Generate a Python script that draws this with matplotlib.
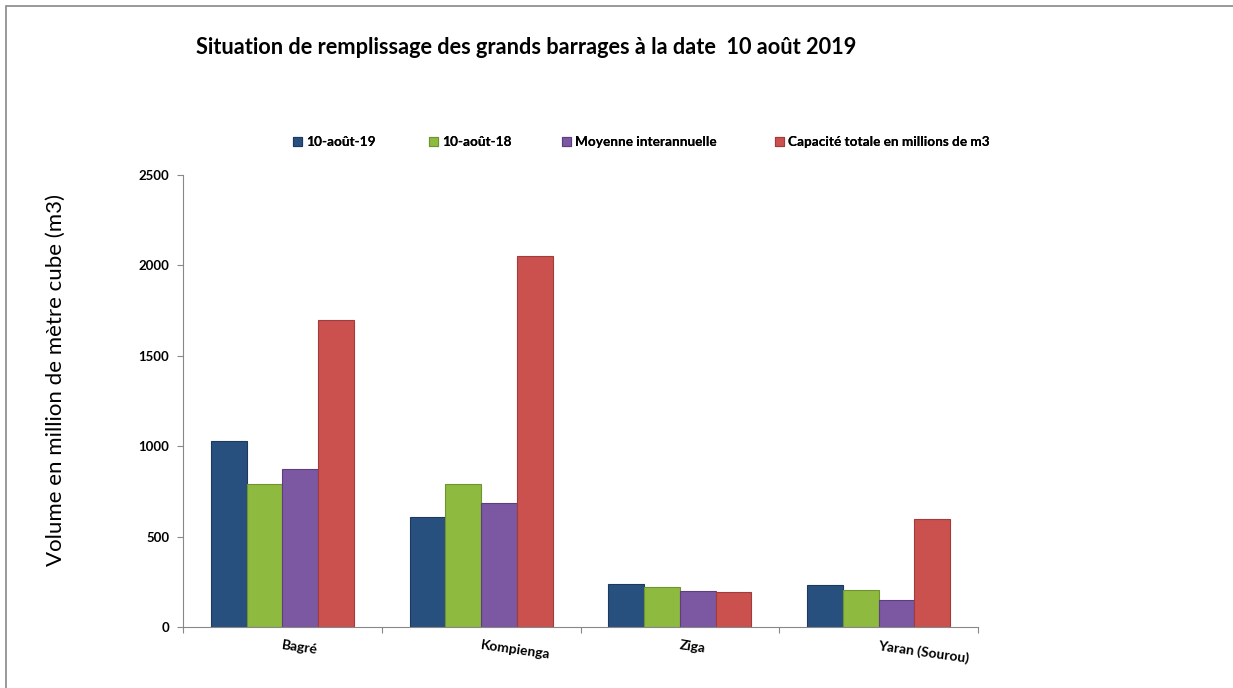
import matplotlib
matplotlib.use("Agg")
import matplotlib.pyplot as plt
import numpy as np
from matplotlib.patches import Rectangle

plt.rcParams['font.family'] = ['Lato', 'DejaVu Sans']

categories = ["Bagré", "Kompienga", "Ziga", "Yaran (Sourou)"]
series_names = ["10-août-19", "10-août-18", "Moyenne interannuelle",
                "Capacité totale en millions de m3"]
aout19 = [1029, 608, 236, 230]
aout18 = [793, 791, 219, 206]
moyenne = [874, 686, 201, 148]
capacite = [1698, 2050, 195, 600]
yticks = [0, 500, 1000, 1500, 2000, 2500]

colors = ["#28507f", "#8fba40", "#7c58a3", "#cb514f"]
edge = ["#1c3a5e", "#6e9430", "#5d3f80", "#a03c3a"]

W, H = 1233, 688
fig = plt.figure(figsize=(W / 100, H / 100), dpi=100)
ax = fig.add_axes([183 / W, 1 - 627 / H, (978 - 183) / W, (627 - 175) / H])

x = np.arange(len(categories))
w = 0.18
all_series = [aout19, aout18, moyenne, capacite]
handles = []
for i, (vals, name) in enumerate(zip(all_series, series_names)):
    b = ax.bar(x + (i - 1.5) * w, vals, w, color=colors[i], edgecolor=edge[i],
               linewidth=0.8, label=name, zorder=2)
    handles.append(b)

ax.set_xlim(-0.5, len(categories) - 0.5)
ax.set_ylim(0, 2500)
ax.set_yticks(yticks)
ax.set_yticklabels([str(t) for t in yticks], fontsize=9.5, fontweight='bold')
ax.set_xticks(np.arange(-0.5, len(categories), 1.0))
ax.set_xticklabels([])
ax.tick_params(axis='both', direction='out', length=4, color='#888888', width=0.8)
ax.tick_params(axis='y', pad=6)
for s in ['top', 'right']:
    ax.spines[s].set_visible(False)
for s in ['left', 'bottom']:
    ax.spines[s].set_color('#888888')
    ax.spines[s].set_linewidth(0.8)

for xi, cat in zip(x, categories):
    ax.annotate(cat, xy=(xi, 0), xycoords=('data', 'axes fraction'),
                xytext=(0, -9), textcoords='offset points',
                ha='left', va='top', rotation=-8, rotation_mode='anchor',
                fontsize=10, fontweight='bold')

ax.set_ylabel("Volume en million de mètre cube (m3)", fontsize=16)
ax.yaxis.set_label_coords((66 - 183) / (978 - 183), (627 - 380) / (627 - 175))

fig.text(196 / W, 1 - 47 / H, "Situation de remplissage des grands barrages à la date  10 août 2019",
         fontsize=15.7, fontweight='bold', ha='left', va='center')

# legend entries placed individually
leg_x = [293, 429, 562, 775]
for h, name, lx in zip(handles, series_names, leg_x):
    lg = fig.legend(handles=[h], labels=[name], loc='center left',
                    bbox_to_anchor=(lx / W, 1 - 142 / H), frameon=False,
                    prop={'weight': 'bold', 'size': 9.8},
                    handlelength=0.65, handleheight=0.65, handletextpad=0.3,
                    borderpad=0, borderaxespad=0)
    fig.add_artist(lg)

# outer frame
fig.add_artist(Rectangle((6 / W, -0.01), 1.02, 1 - 6 / H + 0.01,
                         transform=fig.transFigure, fill=False,
                         edgecolor='#888888', linewidth=1.2))

fig.savefig("out.png", dpi=100, facecolor='white')
